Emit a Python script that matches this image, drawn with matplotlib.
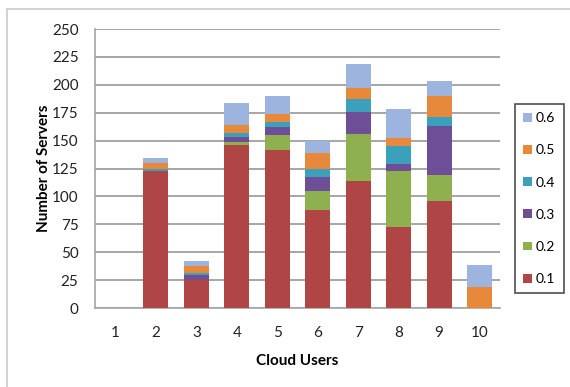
import matplotlib.pyplot as plt
import numpy as np

users = [1, 2, 3, 4, 5, 6, 7, 8, 9, 10]
series_names = ['0.1', '0.2', '0.3', '0.4', '0.5', '0.6']
colors = ['#B04545', '#8FB04E', '#6E4E96', '#3AA0BB', '#E8883A', '#9DB4DE']

# values per series, one per cloud user
s01 = [0, 123, 25, 146, 142, 88, 114, 73, 96, 0]
s02 = [0, 0, 0, 3, 13, 17, 42, 50, 23, 0]
s03 = [0, 0, 5, 4, 7, 12, 20, 6, 44, 0]
s04 = [0, 2, 1, 4, 5, 8, 11, 16, 8, 0]
s05 = [0, 5, 7, 7, 7, 14, 10, 7, 19, 19]
s06 = [0, 4, 4, 20, 16, 11, 22, 26, 13, 20]
series = [s01, s02, s03, s04, s05, s06]

plt.rcParams['font.family'] = ['Lato', 'DejaVu Sans']

fig = plt.figure(figsize=(5.7, 3.87), dpi=100)
ax = fig.add_axes([0.167, 0.204, 0.71, 0.721])

bottom = np.zeros(len(users))
handles = []
for name, vals, col in zip(series_names, series, colors):
    b = ax.bar(users, vals, width=0.62, bottom=bottom, color=col, label=name, zorder=3)
    handles.append(b)
    bottom += np.array(vals)

ax.set_xlim(0.5, 10.5)
ax.set_ylim(0, 250)
ax.set_yticks(range(0, 251, 25))
ax.set_xticks(users)
ax.yaxis.grid(True, color='#A6A6A6', linewidth=1.4, zorder=0)
ax.set_axisbelow(True)
for side in ['top', 'right']:
    ax.spines[side].set_visible(False)
ax.spines['left'].set_color('#A6A6A6')
ax.spines['bottom'].set_color('#A6A6A6')
ax.spines['left'].set_linewidth(1.2)
ax.spines['bottom'].set_linewidth(1.2)
ax.tick_params(axis='both', length=0, labelsize=11, colors='#222222')
ax.tick_params(axis='x', pad=13)
ax.tick_params(axis='y', pad=12)

ax.set_xlabel('Cloud Users', fontsize=11, fontweight='bold', labelpad=10)
ax.set_ylabel('Number of Servers', fontsize=11, fontweight='bold', labelpad=1)

leg = fig.legend(handles[::-1], series_names[::-1], loc='upper left',
                 bbox_to_anchor=(515 / 570, 1 - 104 / 387), frameon=True,
                 fontsize=10, handlelength=0.6, handleheight=0.6,
                 labelspacing=1.45, handletextpad=0.3, borderpad=0.6,
                 borderaxespad=0, fancybox=False)
leg.get_frame().set_edgecolor('#222222')
leg.get_frame().set_linewidth(1.2)

# faint outer chart border
fig.add_artist(plt.Line2D([7 / 570, 7 / 570], [0, 1 - 9 / 387], transform=fig.transFigure,
                          color='#CCCCCC', linewidth=1.2))
fig.add_artist(plt.Line2D([7 / 570, 1], [1 - 9 / 387, 1 - 9 / 387], transform=fig.transFigure,
                          color='#CCCCCC', linewidth=1.2))

fig.savefig('out.png', dpi=100)
